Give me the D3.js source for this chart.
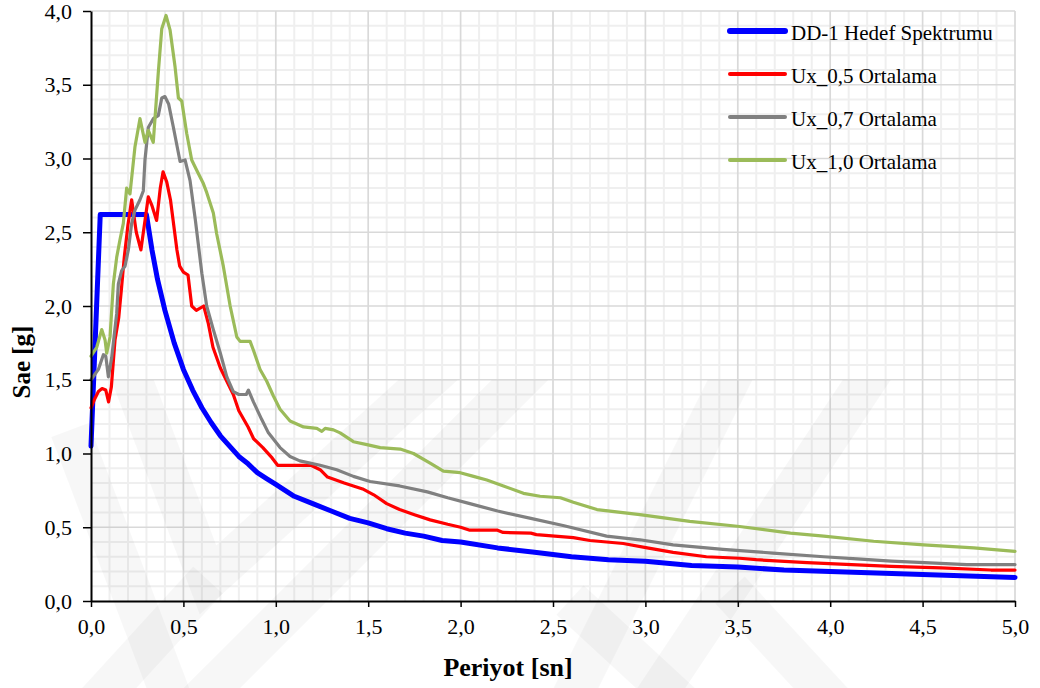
<!DOCTYPE html>
<html>
<head>
<meta charset="utf-8">
<script src="https://cdn.jsdelivr.net/npm/d3@7"></script>
<style>
  body { margin: 0; background: #fff; }
  svg { display: block; }
</style>
</head>
<body>
<svg id="chart" width="1040" height="688"></svg>
<script>
// --- data (period [s], Sae [g]) ---
const hedef = [
  [0.00, 1.05], [0.05, 2.62], [0.30, 2.62], [0.33, 2.38], [0.36, 2.18], [0.40, 1.97],
  [0.45, 1.75], [0.50, 1.57], [0.55, 1.43], [0.60, 1.31], [0.65, 1.21], [0.70, 1.12],
  [0.75, 1.05], [0.80, 0.98], [0.85, 0.93], [0.90, 0.87], [0.95, 0.83], [1.00, 0.79],
  [1.10, 0.71], [1.20, 0.66], [1.30, 0.61], [1.40, 0.56], [1.50, 0.53], [1.60, 0.49],
  [1.70, 0.46], [1.80, 0.44], [1.90, 0.41], [2.00, 0.40], [2.20, 0.36], [2.40, 0.33],
  [2.60, 0.30], [2.80, 0.28], [3.00, 0.27], [3.25, 0.24], [3.50, 0.23], [3.75, 0.21],
  [4.00, 0.20], [4.25, 0.19], [4.50, 0.18], [4.75, 0.17], [5.00, 0.16]
];

const ux05 = [
  [0.00, 1.31], [0.02, 1.37], [0.04, 1.42], [0.06, 1.44], [0.08, 1.43], [0.095, 1.35],
  [0.11, 1.45], [0.13, 1.77], [0.15, 1.92], [0.165, 2.12], [0.18, 2.33], [0.20, 2.55],
  [0.22, 2.72], [0.245, 2.50], [0.27, 2.38], [0.29, 2.56], [0.31, 2.74], [0.33, 2.68],
  [0.355, 2.58], [0.375, 2.80], [0.39, 2.91], [0.41, 2.84], [0.43, 2.72], [0.465, 2.38],
  [0.48, 2.27], [0.50, 2.23], [0.525, 2.21], [0.545, 2.00], [0.57, 1.97], [0.61, 2.00],
  [0.635, 1.88], [0.66, 1.72], [0.70, 1.58], [0.735, 1.49], [0.77, 1.40], [0.80, 1.29],
  [0.85, 1.18], [0.88, 1.10], [0.93, 1.04], [0.98, 0.97], [1.01, 0.92], [1.11, 0.92],
  [1.19, 0.92], [1.24, 0.89], [1.28, 0.84], [1.37, 0.80], [1.47, 0.76], [1.53, 0.72],
  [1.60, 0.66], [1.67, 0.62], [1.75, 0.585], [1.835, 0.55], [1.93, 0.52], [2.00, 0.50],
  [2.05, 0.48], [2.20, 0.48], [2.23, 0.465], [2.38, 0.46], [2.41, 0.45], [2.61, 0.43],
  [2.70, 0.41], [2.88, 0.39], [3.01, 0.36], [3.15, 0.33], [3.33, 0.30], [3.51, 0.29],
  [3.60, 0.28], [3.875, 0.26], [4.055, 0.25], [4.33, 0.235], [4.60, 0.225], [4.87, 0.21],
  [5.00, 0.21]
];

const ux07 = [
  [0.00, 1.50], [0.04, 1.57], [0.067, 1.67], [0.08, 1.66], [0.094, 1.52], [0.112, 1.65],
  [0.139, 1.95], [0.148, 2.15], [0.166, 2.24], [0.184, 2.27], [0.202, 2.38], [0.22, 2.56],
  [0.238, 2.65], [0.265, 2.72], [0.283, 2.78], [0.292, 2.99], [0.31, 3.21], [0.337, 3.27],
  [0.364, 3.29], [0.383, 3.41], [0.40, 3.42], [0.42, 3.37], [0.446, 3.21], [0.482, 2.98],
  [0.509, 2.99], [0.536, 2.85], [0.565, 2.58], [0.60, 2.22], [0.626, 2.00], [0.662, 1.84],
  [0.70, 1.68], [0.735, 1.52], [0.77, 1.42], [0.80, 1.40], [0.84, 1.40], [0.852, 1.43],
  [0.879, 1.35], [0.924, 1.23], [0.96, 1.14], [1.023, 1.04], [1.077, 0.98], [1.13, 0.95],
  [1.24, 0.92], [1.33, 0.89], [1.42, 0.845], [1.51, 0.81], [1.67, 0.78], [1.82, 0.74],
  [1.93, 0.70], [2.05, 0.66], [2.20, 0.61], [2.38, 0.56], [2.56, 0.51], [2.79, 0.44],
  [2.97, 0.415], [3.15, 0.38], [3.42, 0.35], [3.69, 0.325], [3.965, 0.30], [4.145, 0.285],
  [4.33, 0.27], [4.51, 0.26], [4.74, 0.247], [5.00, 0.247]
];

const ux10 = [
  [0.00, 1.66], [0.031, 1.72], [0.058, 1.84], [0.076, 1.77], [0.085, 1.68], [0.103, 1.79],
  [0.121, 2.15], [0.139, 2.33], [0.157, 2.45], [0.175, 2.56], [0.193, 2.80], [0.211, 2.76],
  [0.238, 3.08], [0.265, 3.27], [0.292, 3.11], [0.31, 3.19], [0.337, 3.11], [0.364, 3.58],
  [0.383, 3.88], [0.406, 3.97], [0.428, 3.87], [0.455, 3.62], [0.473, 3.41], [0.491, 3.39],
  [0.518, 3.17], [0.545, 2.99], [0.572, 2.92], [0.608, 2.83], [0.626, 2.77], [0.662, 2.63],
  [0.68, 2.49], [0.716, 2.27], [0.753, 2.00], [0.789, 1.79], [0.807, 1.76], [0.861, 1.76],
  [0.879, 1.70], [0.915, 1.57], [0.951, 1.49], [0.987, 1.39], [1.023, 1.30], [1.077, 1.22],
  [1.15, 1.18], [1.222, 1.17], [1.249, 1.15], [1.267, 1.17], [1.312, 1.16], [1.348, 1.14],
  [1.42, 1.08], [1.493, 1.06], [1.565, 1.04], [1.673, 1.03], [1.745, 1.00], [1.835, 0.935],
  [1.907, 0.88], [1.998, 0.87], [2.07, 0.845], [2.142, 0.82], [2.232, 0.78], [2.34, 0.73],
  [2.43, 0.71], [2.54, 0.70], [2.61, 0.67], [2.738, 0.62], [2.97, 0.585], [3.24, 0.54],
  [3.51, 0.505], [3.785, 0.46], [3.965, 0.44], [4.235, 0.405], [4.506, 0.38], [4.777, 0.36],
  [5.00, 0.337]
];

const seriesNames = ['DD-1 Hedef Spektrumu', 'Ux_0,5 Ortalama', 'Ux_0,7 Ortalama', 'Ux_1,0 Ortalama'];
const seriesColors = ['#0000ff', '#ff0000', '#808080', '#9bbb59'];
const seriesWidths = [5, 3.2, 3.2, 3.2];
const seriesData = [hedef, ux05, ux07, ux10];

const xTicks = [0, 0.5, 1, 1.5, 2, 2.5, 3, 3.5, 4, 4.5, 5];
const yTicks = [0, 0.5, 1, 1.5, 2, 2.5, 3, 3.5, 4];

// --- layout ---
const W = 1040, H = 688;
const margin = { top: 11, right: 25, bottom: 87, left: 91 };
const svg = d3.select('#chart');
const serif = '"Liberation Serif", "Times New Roman", serif';

const x = d3.scaleLinear().domain([0, 5]).range([margin.left, W - margin.right]);
const y = d3.scaleLinear().domain([0, 4]).range([H - margin.bottom, margin.top]);
const fmt = d => d3.format('.1f')(d).replace('.', ',');

svg.append('rect').attr('width', W).attr('height', H).attr('fill', '#fff');

// minor + major grid
const grid = svg.append('g');
grid.selectAll('.vmin').data(d3.range(1, 50).filter(i => i % 5)).join('line')
  .attr('x1', i => x(i / 10)).attr('x2', i => x(i / 10))
  .attr('y1', y(0)).attr('y2', y(4))
  .attr('stroke', '#efefef').attr('stroke-width', 2);
grid.selectAll('.hmin').data(d3.range(1, 40).filter(i => i % 5)).join('line')
  .attr('y1', i => y(i / 10)).attr('y2', i => y(i / 10))
  .attr('x1', x(0)).attr('x2', x(5))
  .attr('stroke', '#efefef').attr('stroke-width', 2);
grid.selectAll('.vmaj').data(xTicks.slice(1)).join('line')
  .attr('x1', d => x(d)).attr('x2', d => x(d))
  .attr('y1', y(0)).attr('y2', y(4))
  .attr('stroke', '#d9d9d9').attr('stroke-width', 1.7);
grid.selectAll('.hmaj').data(yTicks.slice(1)).join('line')
  .attr('y1', d => y(d)).attr('y2', d => y(d))
  .attr('x1', x(0)).attr('x2', x(5))
  .attr('stroke', '#d9d9d9').attr('stroke-width', 1.7);

// faint thesis watermark, cut flat at its top
svg.append('clipPath').attr('id', 'wm-clip')
  .append('rect').attr('x', 0).attr('y', 380).attr('width', W).attr('height', H - 380);
const mark = svg.append('g').attr('clip-path', 'url(#wm-clip)')
  .attr('fill', 'none').attr('stroke', '#000')
  .attr('stroke-opacity', 0.032).attr('stroke-width', 40).attr('stroke-linecap', 'butt');
[
  [[125, 360], [208, 580], [450, 360]],
  [[70, 430], [180, 720]],
  [[80, 720], [208, 580]],
  [[180, 720], [540, 360]],
  [[560, 720], [740, 360]],
  [[640, 720], [880, 360]],
  [[570, 600], [700, 720]],
  [[730, 590], [850, 720]]
].forEach(pts => mark.append('path').attr('d', d3.line()(pts)));

// curves
const line = d3.line().x(d => x(d[0])).y(d => y(d[1]));
const curves = svg.append('g').attr('fill', 'none').attr('stroke-linejoin', 'round').attr('stroke-linecap', 'round');
seriesData.forEach((data, i) => {
  curves.append('path').datum(data)
    .attr('d', line)
    .attr('stroke', seriesColors[i])
    .attr('stroke-width', seriesWidths[i]);
});

// axes
const xAxis = svg.append('g').attr('transform', `translate(0,${y(0)})`)
  .call(d3.axisBottom(x).tickValues(xTicks).tickFormat(fmt).tickSize(6).tickSizeOuter(0));
const yAxis = svg.append('g').attr('transform', `translate(${x(0)},0)`)
  .call(d3.axisLeft(y).tickValues(yTicks).tickFormat(fmt).tickSize(8).tickSizeOuter(0));
[xAxis, yAxis].forEach(a => {
  a.select('.domain').attr('stroke', '#000').attr('stroke-width', 2);
  a.selectAll('.tick line').attr('stroke', '#000').attr('stroke-width', 1.5);
  a.selectAll('.tick text').attr('fill', '#000').style('font-family', serif).style('font-size', '22px');
});
xAxis.selectAll('.tick text').attr('dy', '0.71em').attr('y', 17);
yAxis.selectAll('.tick text').attr('x', -19);

// axis titles
svg.append('text')
  .attr('x', 508).attr('y', 676)
  .attr('text-anchor', 'middle')
  .style('font-family', serif).style('font-size', '26px').style('font-weight', 'bold')
  .text('Periyot [sn]');
svg.append('text')
  .attr('transform', `translate(30,${y(1.62)}) rotate(-90)`)
  .attr('text-anchor', 'middle')
  .style('font-family', serif).style('font-size', '25px').style('font-weight', 'bold')
  .text('Sae [g]');

// legend
const legend = svg.append('g').attr('transform', 'translate(730,31)');
seriesNames.forEach((name, i) => {
  const g = legend.append('g').attr('transform', `translate(0,${i * 43})`);
  g.append('line').attr('x1', 0).attr('x2', 55).attr('y1', 0).attr('y2', 0)
    .attr('stroke', seriesColors[i]).attr('stroke-width', i === 0 ? 6 : 4)
    .attr('stroke-linecap', 'round');
  g.append('text').attr('x', 61).attr('y', 9)
    .style('font-family', serif).style('font-size', '21px')
    .text(name);
});
</script>
</body>
</html>
